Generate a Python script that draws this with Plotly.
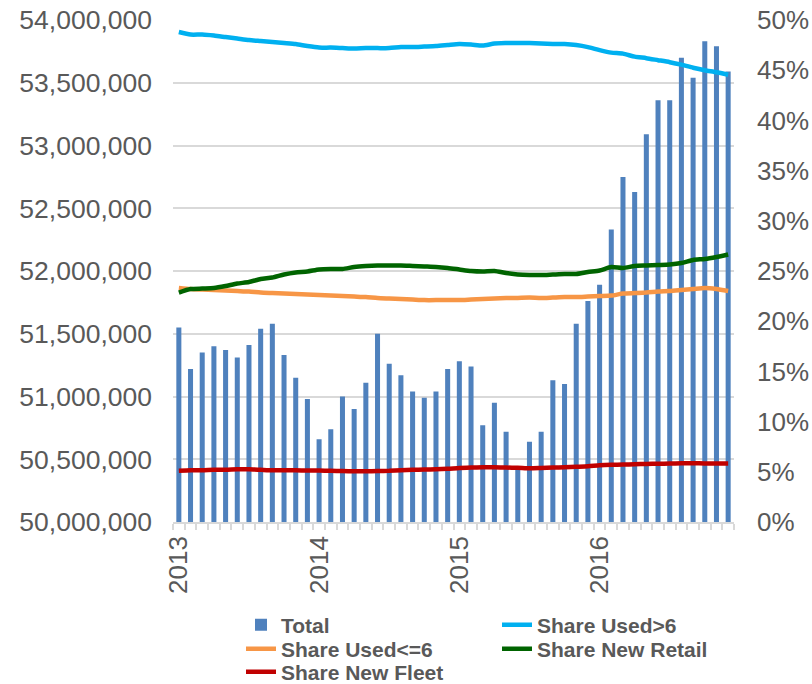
import numpy as np
import pandas as pd
import plotly.graph_objects as go

# ---- data ----
months = [d.strftime("%Y-%m") for d in pd.date_range("2013-01-01", "2016-12-01", freq="MS")]
year_labels = ["2013", "2014", "2015", "2016"]
year_positions = ["2013-01", "2014-01", "2015-01", "2016-01"]

total = [
    51.55e6, 51.22e6, 51.35e6, 51.40e6, 51.37e6, 51.31e6, 51.41e6, 51.54e6, 51.58e6, 51.33e6, 51.15e6, 50.98e6,
    50.66e6, 50.74e6, 51.00e6, 50.90e6, 51.11e6, 51.50e6, 51.26e6, 51.17e6, 51.04e6, 50.99e6, 51.04e6, 51.22e6,
    51.28e6, 51.24e6, 50.77e6, 50.95e6, 50.72e6, 50.42e6, 50.64e6, 50.72e6, 51.13e6, 51.10e6, 51.58e6, 51.76e6,
    51.89e6, 52.33e6, 52.75e6, 52.63e6, 53.09e6, 53.36e6, 53.36e6, 53.70e6, 53.54e6, 53.83e6, 53.79e6, 53.59e6,
]
share_used_gt6 = [
    48.8, 48.55, 48.55, 48.45, 48.3, 48.15, 48.0, 47.9, 47.8, 47.7, 47.6, 47.4,
    47.25, 47.25, 47.2, 47.15, 47.2, 47.2, 47.2, 47.3, 47.3, 47.35, 47.4, 47.5,
    47.6, 47.55, 47.45, 47.65, 47.7, 47.72, 47.7, 47.65, 47.62, 47.6, 47.5, 47.3,
    47.0, 46.75, 46.65, 46.35, 46.2, 46.0, 45.8, 45.55, 45.25, 45.0, 44.8, 44.55,
]
share_used_le6 = [
    23.3, 23.2, 23.15, 23.1, 23.05, 23.0, 22.95, 22.85, 22.8, 22.75, 22.7, 22.65,
    22.6, 22.55, 22.5, 22.45, 22.4, 22.3, 22.25, 22.2, 22.15, 22.1, 22.1, 22.12,
    22.1, 22.15, 22.2, 22.25, 22.3, 22.32, 22.35, 22.3, 22.35, 22.4, 22.4, 22.45,
    22.5, 22.55, 22.75, 22.8, 22.85, 22.95, 23.0, 23.1, 23.2, 23.3, 23.2, 23.0,
]
share_new_retail = [
    22.85, 23.2, 23.25, 23.3, 23.5, 23.75, 23.9, 24.2, 24.35, 24.65, 24.85, 24.95,
    25.15, 25.2, 25.2, 25.4, 25.5, 25.55, 25.55, 25.55, 25.5, 25.45, 25.4, 25.3,
    25.15, 25.0, 24.95, 25.0, 24.8, 24.65, 24.6, 24.6, 24.65, 24.7, 24.7, 24.9,
    25.05, 25.4, 25.3, 25.5, 25.55, 25.6, 25.65, 25.8, 26.1, 26.2, 26.4, 26.65,
]
share_new_fleet = [
    5.1, 5.15, 5.15, 5.2, 5.2, 5.25, 5.25, 5.2, 5.15, 5.15, 5.15, 5.12,
    5.12, 5.1, 5.08, 5.05, 5.05, 5.08, 5.1, 5.15, 5.2, 5.22, 5.25, 5.3,
    5.38, 5.42, 5.45, 5.45, 5.42, 5.4, 5.35, 5.38, 5.42, 5.45, 5.5, 5.55,
    5.65, 5.7, 5.72, 5.75, 5.78, 5.8, 5.82, 5.85, 5.85, 5.83, 5.82, 5.82,
]

# numeric positions for the monthly categories
xpos = list(range(len(months)))
year_tickvals = [months.index(m) for m in year_positions]

FONT = "Arial, Liberation Sans, sans-serif"
GREY = "#595959"
GRID = "#D9D9D9"
W, H = 812, 684

fig = go.Figure()
fig.add_trace(go.Bar(x=xpos, y=total, name="Total", marker=dict(color="#4F81BD", line=dict(width=0)),
                     legend="legend", hovertext=months))
line_specs = [
    ("Share Used>6", share_used_gt6, "#00B0F0", "legend2"),
    ("Share Used<=6", share_used_le6, "#F79646", "legend3"),
    ("Share New Retail", share_new_retail, "#006400", "legend4"),
    ("Share New Fleet", share_new_fleet, "#C00000", "legend5"),
]
for name, vals, color, lg in line_specs:
    fig.add_trace(go.Scatter(x=xpos, y=vals, name=name, mode="lines", yaxis="y2",
                             line=dict(color=color, width=4.5, shape="spline", smoothing=0.6),
                             legend=lg, hovertext=months))


def legend_at(px, py):
    return dict(
        orientation="v", xref="container", yref="container",
        x=px / W, y=1 - py / H, xanchor="left", yanchor="middle",
        font=dict(family=FONT, size=21, color=GREY, weight="bold"),
        bgcolor="rgba(0,0,0,0)", itemwidth=30, tracegroupgap=0, borderwidth=0,
    )


col1, col2 = 241, 497
fig.update_layout(
    width=W, height=H,
    margin=dict(l=173, r=78, t=20, b=162, autoexpand=False),
    plot_bgcolor="white", paper_bgcolor="white",
    bargap=0.57,
    showlegend=True,
    legend=legend_at(col1, 625),
    legend2=legend_at(col2, 625),
    legend3=legend_at(col1, 649),
    legend4=legend_at(col2, 649),
    legend5=legend_at(col1, 672),
    xaxis=dict(
        range=[-0.5, len(months) - 0.5],
        tickmode="array", tickvals=year_tickvals, ticktext=year_labels,
        tickangle=-90, ticks="", ticklabelstandoff=2,
        tickfont=dict(family=FONT, size=26, color=GREY),
        showline=True, linecolor=GRID, linewidth=1.5,
        showgrid=False, zeroline=False, automargin=False,
        minor=dict(tickmode="linear", tick0=-0.5, dtick=1, ticks="outside",
                   ticklen=6, tickcolor=GRID, tickwidth=1.5, showgrid=False),
    ),
    yaxis=dict(
        range=[50e6, 54e6], dtick=500000, tickformat=",",
        tickfont=dict(family=FONT, size=26.5, color=GREY),
        showgrid=True, gridcolor=GRID, gridwidth=1.5, automargin=False,
        zeroline=False, showline=False, ticks="", ticklabelstandoff=20,
    ),
    yaxis2=dict(
        range=[0, 50], dtick=5, ticksuffix="%", overlaying="y", side="right",
        tickfont=dict(family=FONT, size=26, color=GREY), automargin=False,
        showgrid=False, zeroline=False, showline=False, ticks="", ticklabelstandoff=22,
    ),
)

fig.write_html("out.html")
